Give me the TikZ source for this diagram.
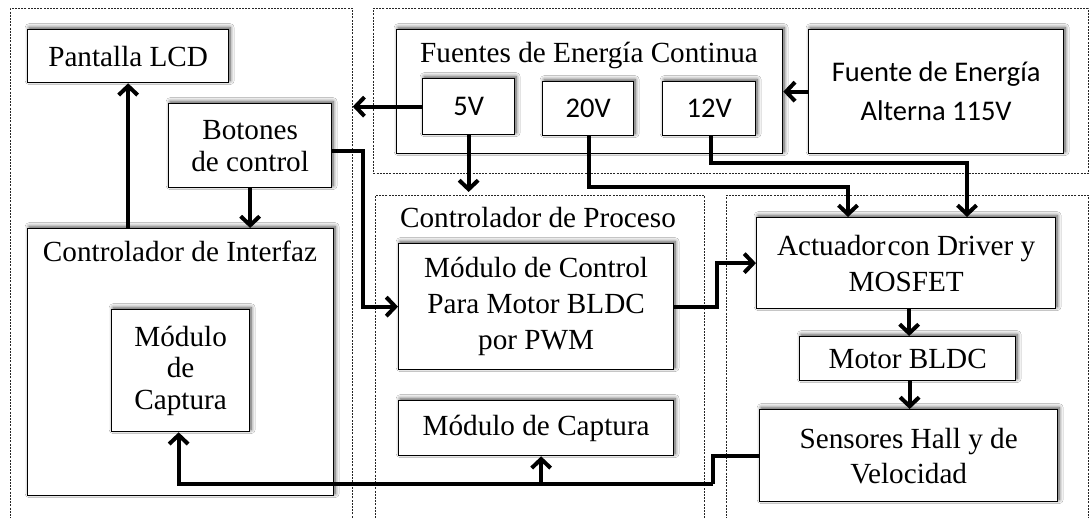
\documentclass[tikz,border=0pt]{standalone}
\usepackage{fontspec}
\setmainfont{Liberation Serif}
\newfontfamily\calibri{Carlito}
\usetikzlibrary{arrows.meta,shadows,shadows.blur}
\begin{document}
\begin{tikzpicture}[x=1pt,y=-1pt,
  cont/.style={draw=black!85, dash pattern=on 2pt off 1.2pt, line width=0.7pt, inner sep=0pt, anchor=north west},
  box/.style={draw, line width=1.3pt, fill=white, inner sep=0pt, align=center, anchor=north west,
    font=\fontsize{29.2}{33}\selectfont,
    blur shadow={shadow xshift=1.5pt, shadow yshift=2pt, shadow blur steps=8, shadow blur radius=4pt, shadow opacity=70}},
  cbox/.style={box, font=\calibri\fontsize{28.5}{39}\selectfont},
  ttl/.style={anchor=base, inner sep=0pt, font=\fontsize{29.2}{33}\selectfont},
  arr/.style={line width=4pt, -{Straight Barb[length=9pt,width=19pt]}},
  ln/.style={line width=4pt}
]
\useasboundingbox (0,0) rectangle (1091,518);
\fill[white] (0,0) rectangle (1091,518);

% containers
\node[cont, minimum width=342pt, minimum height=516pt] (leftc) at (10,8) {};
\node[cont, minimum width=715pt, minimum height=165pt] (topc) at (373,8) {};
\node[cont, minimum width=329pt, minimum height=330pt] (midc) at (375,195) {};
\node[cont, minimum width=362pt, minimum height=330pt] (rightc) at (726,195) {};

% left block
\node[box, minimum width=201pt, minimum height=53pt] (lcd) at (27,29) {Pantalla LCD};
\node[box, minimum width=163pt, minimum height=84pt, font=\fontsize{29.2}{32}\selectfont] (bot) at (168,103) {Botones\\de control};
\node[box, minimum width=306pt, minimum height=267pt] (intf) at (27,228) {};
\node[ttl] (intft) at (180,262) {Controlador de Interfaz};
\node[box, minimum width=138pt, minimum height=122pt, font=\fontsize{29.2}{31.5}\selectfont] (capl) at (111,309) {Módulo\\de\\Captura};

% power
\node[box, minimum width=386pt, minimum height=124pt] (fc) at (396,29) {};
\node[ttl] (fct) at (589,63) {Fuentes de Energía Continua};
\node[cbox, minimum width=92pt, minimum height=56pt] (v5) at (422,78) {5V};
\node[cbox, minimum width=91pt, minimum height=54pt] (v20) at (542,81) {20V};
\node[cbox, minimum width=93pt, minimum height=54pt] (v12) at (662,81) {12V};
\node[cbox, minimum width=255pt, minimum height=124pt] (alt) at (808,29) {Fuente de Energía\\Alterna 115V};

% process controller
\node[ttl] (midt) at (538,228) {Controlador de Proceso};
\node[box, minimum width=275pt, minimum height=126pt, font=\fontsize{29.2}{36}\selectfont] (pwm) at (398,243) {Módulo de Control\\Para Motor BLDC\\por PWM};
\node[box, minimum width=275pt, minimum height=55pt] (capm) at (398,400) {Módulo de Captura};

% actuator side
\node[box, minimum width=299pt, minimum height=91pt, font=\fontsize{29.2}{36}\selectfont] (act) at (756,217) {Actuador\hspace{2pt}con Driver y\\MOSFET};
\node[box, minimum width=216pt, minimum height=44pt] (mot) at (799,336) {Motor BLDC};
\node[box, minimum width=298pt, minimum height=92pt, font=\fontsize{29.2}{35}\selectfont] (sens) at (759,409) {Sensores Hall y de\\Velocidad};

% connectors
\draw[arr] (intf.north -| lcd.south) -- (lcd.south);
\draw[arr] (bot.south) -- (bot.south |- intf.north);
\draw[arr] (v5.west) -- (v5.west -| leftc.east);
\draw[arr, shorten >=3pt] (v5.south) -- (v5.south |- midc.north);
\draw[arr] (alt.west) -- (alt.west -| fc.east);
\draw[arr] ([xshift=1pt]v20.south) -- ++(0,51) -| ([xshift=92pt]act.north west);
\draw[arr] ([xshift=1.5pt]v12.south) -- ++(0,27) -| ([xshift=211pt]act.north west);
\draw[arr] ([yshift=-5pt]bot.east) -- ++(31,0) |- (pwm.west);
\draw[arr] (pwm.east) -- ++(43,0) |- (act.west);
\draw[arr] ([xshift=3pt]act.south) -- ([xshift=3pt]act.south |- mot.north);
\draw[arr] ([xshift=2pt]mot.south) -- ([xshift=2pt]mot.south |- sens.north);
\path (sens.west) ++(-46,28) coordinate (bend);
\draw[ln] (sens.west) -| (bend);
\draw[arr] (bend) -| ([xshift=-2pt]capl.south);
\draw[arr] ([xshift=5pt]capm.south |- bend) -- ([xshift=5pt]capm.south);
\end{tikzpicture}
\end{document}
